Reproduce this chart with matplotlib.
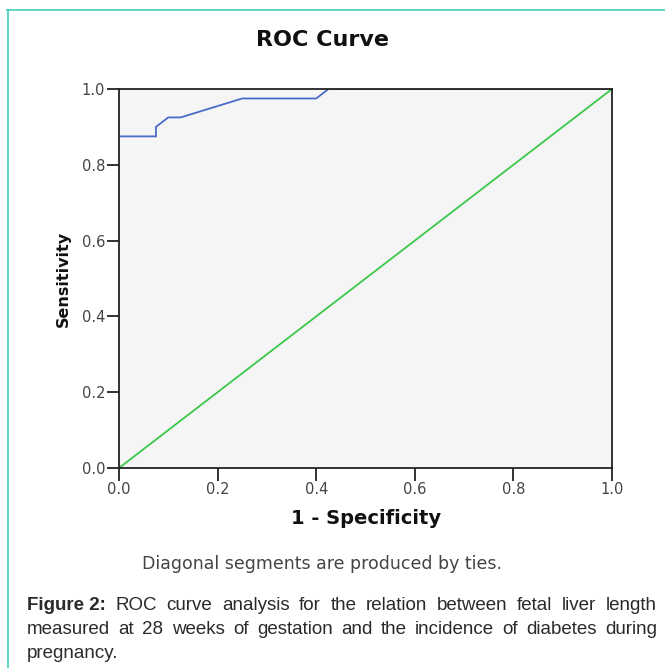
import matplotlib
matplotlib.use('Agg')
import matplotlib.pyplot as plt
from matplotlib.lines import Line2D

plt.rcParams['font.family'] = ['DejaVu Sans']

# ROC curve points
fpr = [0.0, 0.075, 0.075, 0.100, 0.125, 0.250, 0.400, 0.425, 1.0]
tpr = [0.875, 0.875, 0.900, 0.925, 0.925, 0.975, 0.975, 1.0, 1.0]
ticks = [0.0, 0.2, 0.4, 0.6, 0.8, 1.0]
tick_labels = ['0.0', '0.2', '0.4', '0.6', '0.8', '1.0']

caption_lines = [
    [('Figure 2:', 'bold'), ('ROC', 'normal'), ('curve', 'normal'), ('analysis', 'normal'),
     ('for', 'normal'), ('the', 'normal'), ('relation', 'normal'), ('between', 'normal'),
     ('fetal', 'normal'), ('liver', 'normal'), ('length', 'normal')],
    [('measured', 'normal'), ('at', 'normal'), ('28', 'normal'), ('weeks', 'normal'),
     ('of', 'normal'), ('gestation', 'normal'), ('and', 'normal'), ('the', 'normal'),
     ('incidence', 'normal'), ('of', 'normal'), ('diabetes', 'normal'), ('during', 'normal')],
    [('pregnancy.', 'normal')],
]

W, H = 665, 668
fig = plt.figure(figsize=(W / 100, H / 100), dpi=100)
fig.patch.set_facecolor('white')

# teal frame lines (top and left)
frame_col = '#3fcfbd'
fig.add_artist(Line2D([7 / W, 1.0], [1 - 10 / H, 1 - 10 / H], color=frame_col, lw=1.2))
fig.add_artist(Line2D([8 / W, 8 / W], [0, 1 - 10 / H], color=frame_col, lw=1.2))

ax = fig.add_axes([119 / W, 1 - 468 / H, (612 - 119) / W, (468 - 89) / H])
ax.set_facecolor('#f5f5f5')
ax.plot(fpr, tpr, color='#4a6cc9', lw=1.3, solid_joinstyle='miter')
ax.plot([0, 1], [0, 1], color='#3cc84a', lw=1.3)
ax.set_xlim(0, 1)
ax.set_ylim(0, 1)
ax.set_xticks(ticks)
ax.set_xticklabels(tick_labels)
ax.set_yticks(ticks)
ax.set_yticklabels(tick_labels)
for s in ax.spines.values():
    s.set_color('#222222')
    s.set_linewidth(1.3)
ax.tick_params(direction='out', length=9, width=1.3, color='#222222',
               labelsize=10.5, labelcolor='#444444', pad=1)

fig.text(322 / W, 1 - 40 / H, 'ROC Curve', ha='center', va='center',
         fontsize=16, fontweight='bold', color='#111111')
fig.text(366 / W, 1 - 518 / H, '1 - Specificity', ha='center', va='center',
         fontsize=14, fontweight='bold', color='#111111')
fig.text(63 / W, 1 - 279 / H, 'Sensitivity', ha='center', va='center', rotation=90,
         fontsize=11.5, fontweight='bold', color='#111111')
fig.text(322 / W, 1 - 564 / H, 'Diagonal segments are produced by ties.', ha='center',
         va='center', fontsize=12.5, color='#444444')

# justified caption
renderer = fig.canvas.get_renderer()
left_px, right_px = 27, 657
line_y = [610, 634, 658]
for i, (words, y) in enumerate(zip(caption_lines, line_y)):
    texts = []
    for w, wt in words:
        t = fig.text(0, 1 - y / H, w, fontsize=13.5, fontweight=wt, color='#2a2a2a',
                     va='baseline', ha='left', family='Liberation Sans')
        texts.append(t)
    widths = [t.get_window_extent(renderer).width for t in texts]
    if len(texts) > 1 and i < len(caption_lines) - 1:
        gap = (right_px - left_px - sum(widths)) / (len(texts) - 1)
    else:
        gap = 4
    x = left_px
    for t, wd in zip(texts, widths):
        t.set_x(x / W)
        x += wd + gap

fig.savefig('out.png', dpi=100)
